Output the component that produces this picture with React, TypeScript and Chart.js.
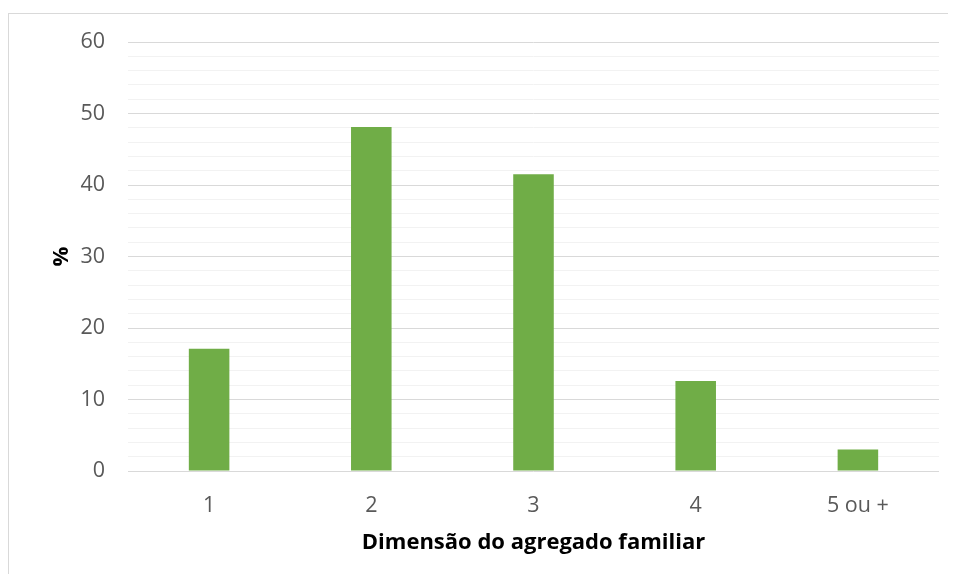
import React, { useEffect, useRef } from "react";
import { Chart, registerables } from "chart.js";

Chart.register(...registerables);

const categories = ["1", "2", "3", "4", "5 ou +"];
const percentages = [17.1, 48.1, 41.5, 12.6, 3.0];
const yMax = 60;
const yStep = 2;
const yLabelEvery = 10;

const FONT = "'Open Sans', 'Liberation Sans', sans-serif";

export default function App() {
  const canvasRef = useRef<HTMLCanvasElement | null>(null);

  useEffect(() => {
    document.body.style.overflow = "hidden";
    const ctx = canvasRef.current;
    if (!ctx) return;
    const chart = new Chart(ctx, {
      type: "bar",
      data: {
        labels: categories,
        datasets: [
          {
            label: "%",
            data: percentages,
            backgroundColor: "#70AD47",
            borderWidth: 0,
            categoryPercentage: 1,
            barPercentage: 0.25,
          },
        ],
      },
      options: {
        animation: false,
        responsive: false,
        maintainAspectRatio: false,
        layout: { padding: { left: 40, right: 9, top: 28, bottom: 18 } },
        plugins: {
          legend: { display: false },
          tooltip: { enabled: false },
        },
        scales: {
          x: {
            grid: { display: false },
            border: { display: false },
            ticks: {
              color: "#595959",
              font: { family: FONT, size: 21.5 },
              padding: 14,
            },
            title: {
              display: true,
              text: "Dimensão do agregado familiar",
              color: "#000000",
              font: { family: FONT, size: 22, weight: "bold" },
              padding: { top: 0, bottom: 0 },
            },
            afterFit: (scale: any) => {
              scale.height = 85;
              scale.paddingLeft = 0;
              scale.paddingRight = 0;
            },
          },
          y: {
            min: 0,
            max: yMax,
            border: { display: false },
            grid: {
              drawTicks: false,
              color: (c: any) =>
                c.tick && c.tick.value % yLabelEvery === 0 ? "#d9d9d9" : "#f2f2f2",
              lineWidth: 1,
            },
            ticks: {
              stepSize: yStep,
              autoSkip: false,
              color: "#595959",
              font: { family: FONT, size: 21.5 },
              padding: 23,
              callback: (v: any) => (Number(v) % yLabelEvery === 0 ? String(v) : ""),
            },
            title: {
              display: true,
              text: "%",
              color: "#000000",
              font: { family: FONT, size: 22, weight: "bold" },
              padding: { top: 0, bottom: 0 },
            },
            afterFit: (scale: any) => {
              scale.width = 79;
              scale.paddingTop = 0;
              scale.paddingBottom = 0;
            },
          },
        },
      },
    });
    return () => chart.destroy();
  }, []);

  return (
    <div
      style={{
        marginTop: 5,
        width: 940,
        height: 561,
        borderLeft: "1px solid #d9d9d9",
        borderTop: "1px solid #d9d9d9",
        boxSizing: "border-box",
      }}
    >
      <canvas ref={canvasRef} width={939} height={560} style={{ display: "block" }} />
    </div>
  );
}
